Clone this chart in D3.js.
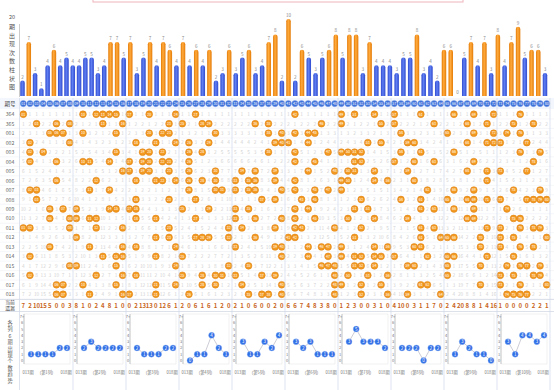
<!DOCTYPE html>
<html>
<head>
<meta charset="utf-8">
<script src="https://cdn.jsdelivr.net/npm/d3@7"></script>
<style>
  body { margin: 0; background: #fff; }
  svg { display: block; font-family: "Noto Sans CJK SC", "DejaVu Sans", sans-serif; }
</style>
</head>
<body>
<svg id="chart" width="554" height="390"></svg>
<script>
// numbers 01..80 (columns) and issues (rows)
var nums = d3.range(1, 81);
var issues = ["364","365","001","002","003","004","005","006","007","008",
              "009","010","011","012","013","014","015","016","017","018"];

// appearances in the last 20 issues (bar labels)
var counts = [2,7,3,1,4,6,4,5, 4,4,5,5,3,4,7,7, 5,7,3,5,7,4,7,6,
              4,7,4,6,4,6,2,3, 6,3,5,6,3,4,7,8, 2,10,2,6,5,3,5,6,
              8,5,8,8,3,7,4,4, 4,3,5,5,8,3,4,2, 6,6,0,5,7,4,7,3,
              8,4,7,9,5,6,6,3];

// drawn numbers per issue
var d364 = [1,10,12,13,14,15,17,20,24,27,42,49,51,54,57,61,66,69,72,76];
var d365 = [3,6,8,13,16,23,25,28,29,36,38,46,49,55,57,63,68,71,75,78];
var d001 = [5,6,7,10,15,20,22,23,30,38,40,42,44,45,58,65,69,72,74,76];
var d002 = [2,8,18,21,24,26,29,39,40,41,44,53,55,59,60,68,71,72,73,77];
var d003 = [2,4,15,19,20,22,26,28,38,42,47,49,50,51,52,58,61,66,76,79];
var d004 = [2,6,10,11,14,17,19,20,22,23,26,42,45,51,52,57,60,63,69,78];
var d005 = [16,17,19,20,23,26,30,34,36,39,44,48,50,51,54,59,68,71,73,77];
var d006 = [6,12,18,21,22,24,26,28,30,33,35,36,39,42,49,50,54,56,60,71];
var d007 = [2,3,11,14,26,30,31,33,35,36,40,42,45,47,49,62,66,69,75,79];
var d008 = [3,18,23,27,37,39,43,45,52,58,61,65,68,69,71,73,77,78,79,80];
var d009 = [5,7,9,14,15,17,18,25,29,33,35,42,44,51,53,61,63,66,69,74];
var d010 = [5,8,9,11,12,18,21,27,33,36,40,42,45,50,54,59,68,69,75,76];
var d011 = [1,2,8,12,16,23,32,34,39,42,43,48,52,61,63,71,73,76,78,79];
var d012 = [9,21,23,27,28,29,32,36,41,42,51,61,64,65,66,70,73,75,80];
var d013 = [5,11,16,18,24,33,39,40,44,46,47,49,54,56,60,61,70,73,76,78];
var d014 = [2,13,15,16,21,25,40,44,47,49,51,52,54,55,57,62,65,66,71,75];
var d015 = [8,9,15,24,32,35,46,47,48,51,52,54,59,60,65,70,74,76,77,79];
var d016 = [2,12,16,18,25,28,30,31,33,37,39,48,50,53,56,65,73,75,78,79];
var d017 = [6,7,10,15,21,24,28,30,34,40,48,49,52,55,61,62,70,73,76,80];
var d018 = [6,7,11,16,17,21,26,35,37,38,40,48,52,56,59,64,74,75,76,77];
var draws = [d364,d365,d001,d002,d003,d004,d005,d006,d007,d008,
             d009,d010,d011,d012,d013,d014,d015,d016,d017,d018];

// current omission row
var currentMiss = [7,2,10,15,5,0,0,3, 8,1,0,2,4,8,1,0, 0,2,13,13,0,12,6,1,
                   2,0,6,1,6,1,2,0, 2,1,0,6,0,0,2,0, 6,6,7,4,8,3,8,0,
                   1,2,3,0,0,3,1,0, 4,10,0,3,1,1,7,0, 2,4,20,8,8,1,4,16,
                   1,0,0,0,0,2,2,1];

// hits of each column group in the last six issues (013..018)
var groupTrend = [[1,1,1,1,2,2],[2,3,2,2,2,2],[2,1,1,1,2,2],[0,1,1,4,2,1],[3,1,1,3,2,4],
                  [3,2,3,1,1,1],[3,5,3,3,3,2],[2,2,2,0,2,2],[1,3,2,1,1,0],[3,1,4,4,3,4]];
var trendIssues = ["013","014","015","016","017","018"];

var svg = d3.select("#chart");
var left = 20, right = 550;

var x = d3.scaleBand().domain(nums).range([left, right]);
// the bar strip is laid out a little tighter than the table below it
var xBar = d3.scaleLinear().domain([0, 14, 41, 66, 79]).range([22.5, 110.5, 288.5, 457.5, 545]);
var yBar = d3.scaleLinear().domain([0, 10]).range([96, 19]);
var yRow = d3.scaleBand().domain(issues).range([109.5, 299]);

var pad = function(n) { return n < 10 ? "0" + n : "" + n; };

// gradients
var defs = svg.append("defs");
function grad(id, c0, c1) {
  var g = defs.append("linearGradient").attr("id", id).attr("x1", "0%").attr("x2", "100%");
  g.append("stop").attr("offset", "0%").attr("stop-color", c1);
  g.append("stop").attr("offset", "45%").attr("stop-color", c0);
  g.append("stop").attr("offset", "100%").attr("stop-color", c1);
}
grad("gBlue", "#5f7ff2", "#2f49cf");
grad("gOrange", "#ffab3d", "#e47a05");

// pink title edge at top
svg.append("rect").attr("x", 93).attr("y", -6).attr("width", 370).attr("height", 8)
  .attr("fill", "none").attr("stroke", "#eeb4bc").attr("stroke-width", 1);

// ---------- top bar chart ----------
svg.append("line").attr("x1", left - 0.5).attr("x2", left - 0.5).attr("y1", 24).attr("y2", 97)
  .attr("stroke", "#ccc");

var vlabel = "20期出现次数柱状图";
svg.append("text").attr("x", 12).attr("y", 19).attr("text-anchor", "middle")
  .attr("font-size", 5.5).attr("fill", "#555").text("20");
vlabel.slice(2).split("").forEach(function(ch, i) {
  svg.append("text").attr("x", 12).attr("y", 29 + i * 8.6).attr("text-anchor", "middle")
    .attr("font-size", 6).attr("fill", "#555").text(ch);
});

var bw = 4.5;
var bars = svg.append("g");
bars.selectAll("path").data(counts).enter().append("path")
  .attr("d", function(d, i) {
    var x0 = xBar(i) - bw / 2, y0 = yBar(d), y1 = yBar(0);
    var r = Math.min(bw / 2, (y1 - y0) / 2);
    return "M" + x0 + "," + y1 + "V" + (y0 + r) + "Q" + x0 + "," + y0 + " " + (x0 + r) + "," + y0 +
      "H" + (x0 + bw - r) + "Q" + (x0 + bw) + "," + y0 + " " + (x0 + bw) + "," + (y0 + r) + "V" + y1 + "Z";
  })
  .attr("fill", function(d) { return d >= 6 ? "url(#gOrange)" : "url(#gBlue)"; });
bars.selectAll("text").data(counts).enter().append("text")
  .attr("x", function(d, i) { return xBar(i); })
  .attr("y", function(d) { return yBar(d) - 2; })
  .attr("text-anchor", "middle").attr("font-size", 4.6).attr("fill", "#888")
  .text(function(d) { return d; });

// ---------- header row ----------
svg.append("rect").attr("x", 0).attr("y", 98).attr("width", 554).attr("height", 11)
  .attr("fill", "#f3f6fc");
svg.append("text").attr("x", 10).attr("y", 106).attr("text-anchor", "middle")
  .attr("font-size", 5.5).attr("fill", "#444").text("期号");
var head = svg.append("g");
head.selectAll("circle").data(nums).enter().append("circle")
  .attr("cx", function(d) { return x(d) + x.bandwidth() / 2; }).attr("cy", 103.6).attr("r", 3.1)
  .attr("fill", "#3d6fd9").attr("stroke", "#7aa0ea").attr("stroke-width", 0.5);
head.selectAll("text").data(nums).enter().append("text")
  .attr("x", function(d) { return x(d) + x.bandwidth() / 2; }).attr("y", 105)
  .attr("text-anchor", "middle").attr("font-size", 3.6).attr("fill", "#fff")
  .text(function(d) { return pad(d); });

// ---------- trend grid ----------
var grid = svg.append("g");
issues.forEach(function(iss) {
  grid.append("line").attr("x1", 0).attr("x2", 554)
    .attr("y1", yRow(iss) + yRow.bandwidth()).attr("y2", yRow(iss) + yRow.bandwidth())
    .attr("stroke", "#eef0f5").attr("stroke-width", 0.6);
  grid.append("text").attr("x", 10).attr("y", yRow(iss) + yRow.bandwidth() / 2 + 2)
    .attr("text-anchor", "middle").attr("font-size", 5.2).attr("fill", "#666").text(iss);
});

// omission: issues since the number last appeared (counted inside the 20-issue window)
var cells = [];
nums.forEach(function(n) {
  var miss = 0;
  issues.forEach(function(iss, r) {
    var hit = draws[r].indexOf(n) >= 0;
    miss = hit ? 0 : miss + 1;
    cells.push({ n: n, issue: iss, hit: hit, miss: miss });
  });
});

var cx = function(d) { return x(d.n) + x.bandwidth() / 2; };
var cy = function(d) { return yRow(d.issue) + yRow.bandwidth() / 2; };
grid.selectAll("text.miss").data(cells.filter(function(d) { return !d.hit; })).enter()
  .append("text").attr("class", "miss")
  .attr("x", cx).attr("y", function(d) { return cy(d) + 1.8; })
  .attr("text-anchor", "middle").attr("font-size", 4.8).attr("fill", "#d2d2d2")
  .text(function(d) { return d.miss; });
var hits = cells.filter(function(d) { return d.hit; });
grid.selectAll("circle.hit").data(hits).enter().append("circle").attr("class", "hit")
  .attr("cx", cx).attr("cy", cy).attr("r", 3.4)
  .attr("fill", "#f39a22").attr("stroke", "#d97a0c").attr("stroke-width", 0.5);
grid.selectAll("text.hit").data(hits).enter().append("text").attr("class", "hit")
  .attr("x", cx).attr("y", function(d) { return cy(d) + 1.3; })
  .attr("text-anchor", "middle").attr("font-size", 3.6).attr("fill", "#fff")
  .text(function(d) { return pad(d.n); });

// ---------- current omission ----------
svg.append("line").attr("x1", 0).attr("x2", 554).attr("y1", 299.5).attr("y2", 299.5).attr("stroke", "#dde2ea");
svg.append("text").attr("x", 10).attr("y", 304).attr("text-anchor", "middle")
  .attr("font-size", 4.8).attr("fill", "#444").text("当前");
svg.append("text").attr("x", 10).attr("y", 309.5).attr("text-anchor", "middle")
  .attr("font-size", 4.8).attr("fill", "#444").text("遗漏");
svg.append("g").selectAll("text").data(currentMiss).enter().append("text")
  .attr("x", function(d, i) { return x(nums[i]) + x.bandwidth() / 2; }).attr("y", 307.5)
  .attr("text-anchor", "middle").attr("font-size", 6).attr("font-weight", "bold")
  .attr("fill", "#c8651b").text(function(d) { return d; });
svg.append("line").attr("x1", 0).attr("x2", 554).attr("y1", 311.5).attr("y2", 311.5).attr("stroke", "#dde2ea");

// ---------- group trend panels ----------
var groupLabel = "各列6期出现个数趋势";
groupLabel.split("").forEach(function(ch, i) {
  svg.append("text").attr("x", 10).attr("y", 325 + i * 6.4).attr("text-anchor", "middle")
    .attr("font-size", 5.2).attr("fill", "#555").text(ch);
});

var yT = d3.scaleLinear().domain([0, 7]).range([360.5, 316.5]);
var tickVals = [0, 1, 2, 3, 4, 5, 6, 7];
groupTrend.forEach(function(vals, g) {
  var g0 = x(nums[g * 8]), g1 = x(nums[g * 8 + 7]) + x.bandwidth();
  var p = svg.append("g");
  p.append("line").attr("x1", g1).attr("x2", g1).attr("y1", 98).attr("y2", 390)
    .attr("stroke", "#cfd9ea").attr("stroke-width", 0.7);
  var xT = d3.scalePoint().domain(trendIssues).range([g0 + 11, g1 - 6]);
  p.append("rect").attr("x", g0 + 4).attr("y", 314).attr("width", g1 - g0 - 7).attr("height", 50)
    .attr("fill", "none").attr("stroke", "#e2e2e2").attr("stroke-width", 0.5);
  p.append("line").attr("x1", g0 + 4).attr("x2", g0 + 4).attr("y1", 314).attr("y2", 364)
    .attr("stroke", "#999").attr("stroke-width", 0.5);
  p.selectAll("text.tk").data(tickVals).enter().append("text").attr("class", "tk")
    .attr("x", g0 + 2).attr("y", function(d) { return yT(d) + 1.5; })
    .attr("text-anchor", "middle").attr("font-size", 4).attr("fill", "#777")
    .text(function(d) { return d === 7 ? "7+" : d; });
  var line = d3.line().x(function(d, i) { return xT(trendIssues[i]); }).y(function(d) { return yT(d); });
  p.append("path").attr("d", line(vals)).attr("fill", "none").attr("stroke", "#aab").attr("stroke-width", 0.6);
  p.selectAll("circle").data(vals).enter().append("circle")
    .attr("cx", function(d, i) { return xT(trendIssues[i]); }).attr("cy", function(d) { return yT(d); })
    .attr("r", 3).attr("fill", "#2f6ee6").attr("stroke", "#9bbcf5").attr("stroke-width", 0.4);
  p.selectAll("text.v").data(vals).enter().append("text").attr("class", "v")
    .attr("x", function(d, i) { return xT(trendIssues[i]); }).attr("y", function(d) { return yT(d) + 1.7; })
    .attr("text-anchor", "middle").attr("font-size", 4.6).attr("fill", "#fff").text(function(d) { return d; });
  p.append("text").attr("x", g0 + 8).attr("y", 373.5).attr("text-anchor", "middle")
    .attr("font-size", 4.2).attr("fill", "#777").text(trendIssues[0] + "期");
  p.append("text").attr("x", (g0 + g1) / 2).attr("y", 373.5).attr("text-anchor", "middle")
    .attr("font-size", 4.2).attr("fill", "#777").text("(第" + (g + 1) + "列)");
  p.append("text").attr("x", g1 - 7).attr("y", 373.5).attr("text-anchor", "middle")
    .attr("font-size", 4.2).attr("fill", "#777").text(trendIssues[5] + "期");
});
svg.append("line").attr("x1", left - 0.5).attr("x2", left - 0.5).attr("y1", 98).attr("y2", 390)
  .attr("stroke", "#cfd9ea").attr("stroke-width", 0.7);
</script>
</body>
</html>
